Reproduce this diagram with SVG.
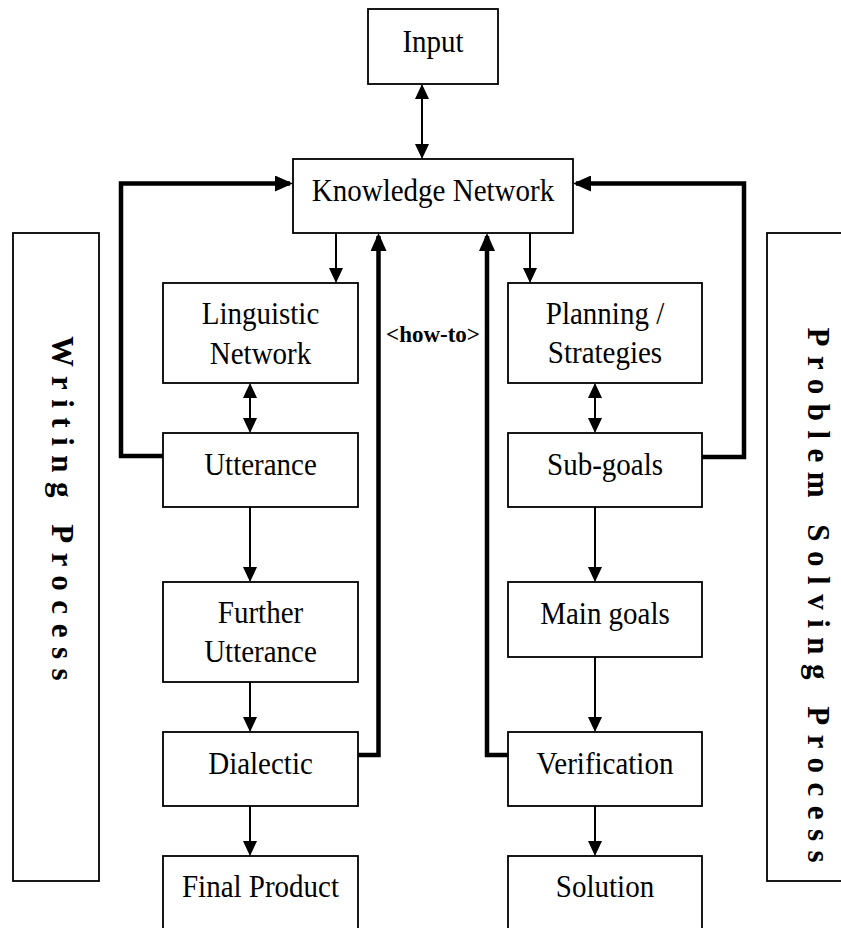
<svg xmlns="http://www.w3.org/2000/svg" width="841" height="928" viewBox="0 0 841 928">
  <style>
    .box { fill: #fff; stroke: #000; stroke-width: 1.8; }
    .lbl { font-family: "Liberation Serif", "Times New Roman", serif; font-size: 29px; fill: #000; text-anchor: middle; }
    .side { font-family: "Liberation Serif", "Times New Roman", serif; font-size: 31px; font-weight: bold; letter-spacing: 9.5px; fill: #000; }
    .tag { font-family: "Liberation Serif", "Times New Roman", serif; font-size: 23px; font-weight: bold; fill: #000; text-anchor: middle; }
    .thin { fill: none; stroke: #000; stroke-width: 2; }
    .thick { fill: none; stroke: #000; stroke-width: 4.5; stroke-linejoin: miter; }
  </style>
  <defs>
    <marker id="ah" markerUnits="userSpaceOnUse" markerWidth="16" markerHeight="14" refX="13.5" refY="7" orient="auto-start-reverse">
      <path d="M0,0 L15,7 L0,14 Z" fill="#000"/>
    </marker>
    <marker id="ahb" markerUnits="userSpaceOnUse" markerWidth="19" markerHeight="16" refX="15" refY="8" orient="auto">
      <path d="M0,0 L18,8 L0,16 Z" fill="#000"/>
    </marker>
  </defs>

  <rect width="841" height="928" fill="#fff"/>

  <!-- side panels -->
  <g id="writing-process">
    <rect class="box" x="13" y="233" width="86" height="648"/>
    <text class="side" transform="translate(52,336) rotate(90)">Writing Process</text>
  </g>
  <g id="problem-solving-process">
    <rect class="box" x="767" y="233" width="90" height="648"/>
    <text class="side" transform="translate(808,327.5) rotate(90)">Problem Solving Process</text>
  </g>

  <!-- central nodes -->
  <g id="input">
    <rect class="box" x="368" y="9" width="130" height="75"/>
    <text class="lbl" transform="translate(433,51.7) scale(1,1.1)">Input</text>
  </g>
  <g id="knowledge-network">
    <rect class="box" x="293" y="159" width="280" height="74"/>
    <text class="lbl" transform="translate(433,201) scale(1,1.1)">Knowledge Network</text>
  </g>

  <!-- writing column -->
  <g id="linguistic-network">
    <rect class="box" x="163" y="283" width="195" height="100"/>
    <text class="lbl" transform="translate(260.5,324) scale(1,1.1)"><tspan x="0" y="0">Linguistic</tspan><tspan x="0" y="36.4">Network</tspan></text>
  </g>
  <g id="utterance">
    <rect class="box" x="163" y="433" width="195" height="74"/>
    <text class="lbl" transform="translate(260.5,475) scale(1,1.1)">Utterance</text>
  </g>
  <g id="further-utterance">
    <rect class="box" x="163" y="582" width="195" height="100"/>
    <text class="lbl" transform="translate(260.5,623) scale(1,1.1)"><tspan x="0" y="0">Further</tspan><tspan x="0" y="35.5">Utterance</tspan></text>
  </g>
  <g id="dialectic">
    <rect class="box" x="163" y="732" width="195" height="74"/>
    <text class="lbl" transform="translate(260.5,773.5) scale(1,1.1)">Dialectic</text>
  </g>
  <g id="final-product">
    <rect class="box" x="163" y="856" width="195" height="80"/>
    <text class="lbl" transform="translate(260.5,897) scale(1,1.1)">Final Product</text>
  </g>

  <!-- problem solving column -->
  <g id="planning-strategies">
    <rect class="box" x="508" y="283" width="194" height="100"/>
    <text class="lbl" transform="translate(605,323.5) scale(1,1.1)"><tspan x="0" y="0">Planning /</tspan><tspan x="0" y="36">Strategies</tspan></text>
  </g>
  <g id="sub-goals">
    <rect class="box" x="508" y="433" width="194" height="74"/>
    <text class="lbl" transform="translate(605,475) scale(1,1.1)">Sub-goals</text>
  </g>
  <g id="main-goals">
    <rect class="box" x="508" y="582" width="194" height="75"/>
    <text class="lbl" transform="translate(605,623.5) scale(1,1.1)">Main goals</text>
  </g>
  <g id="verification">
    <rect class="box" x="508" y="732" width="194" height="74"/>
    <text class="lbl" transform="translate(605,773.5) scale(1,1.1)">Verification</text>
  </g>
  <g id="solution">
    <rect class="box" x="508" y="856" width="194" height="80"/>
    <text class="lbl" transform="translate(605,897) scale(1,1.1)">Solution</text>
  </g>

  <!-- connectors -->
  <g id="connectors">
    <path class="thin" d="M422,85.5 V157.5" marker-start="url(#ah)" marker-end="url(#ah)"/>
    <path class="thin" d="M336,233 V281.5" marker-end="url(#ah)"/>
    <path class="thin" d="M530,233 V281.5" marker-end="url(#ah)"/>

    <path class="thin" d="M250,384.5 V431.5" marker-start="url(#ah)" marker-end="url(#ah)"/>
    <path class="thin" d="M250,507 V580.5" marker-end="url(#ah)"/>
    <path class="thin" d="M250,682 V730.5" marker-end="url(#ah)"/>
    <path class="thin" d="M250,806 V854.5" marker-end="url(#ah)"/>

    <path class="thin" d="M595,384.5 V431.5" marker-start="url(#ah)" marker-end="url(#ah)"/>
    <path class="thin" d="M595,507 V580.5" marker-end="url(#ah)"/>
    <path class="thin" d="M595,657 V730.5" marker-end="url(#ah)"/>
    <path class="thin" d="M595,806 V854.5" marker-end="url(#ah)"/>

    <path class="thick" d="M163,456 H121 V183.5 H290" marker-end="url(#ahb)"/>
    <path class="thick" d="M702,457 H744 V183.5 H576" marker-end="url(#ahb)"/>
    <path class="thick" d="M358,755 H378.5 V236" marker-end="url(#ahb)"/>
    <path class="thick" d="M508,755 H487 V236" marker-end="url(#ahb)"/>

    <text class="tag" x="433" y="341.7">&lt;how-to&gt;</text>
  </g>
</svg>
